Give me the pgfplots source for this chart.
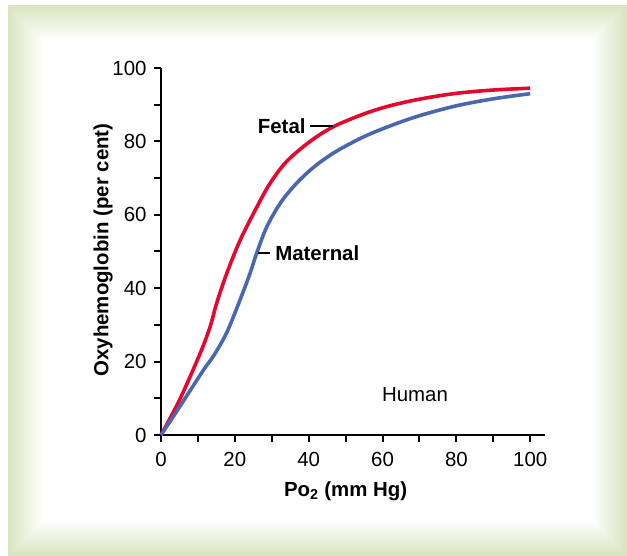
\documentclass[border=0pt]{standalone}
\usepackage{pgfplots}
\pgfplotsset{compat=1.18}
\usepackage{fontspec}
\setmainfont{Liberation Sans}
\definecolor{frameGreen}{HTML}{D9E4C0}
\definecolor{fetalRed}{HTML}{E4082F}
\definecolor{maternalBlue}{HTML}{4A68B0}
\newcommand{\chartfont}{\fontsize{20.5}{24}\selectfont}
\begin{document}
\begin{tikzpicture}
% page and frame background
\fill[white] (0,0) rectangle (627bp,556bp);
\foreach \i in {0,...,16}{
  \pgfmathsetmacro{\pct}{100*(1-\i/17)}
  \fill[frameGreen!\pct!white] (8bp+2*\i bp,0bp+2*\i bp) rectangle (627bp-2*\i bp,551bp-2*\i bp);
}
\fill[white] (42bp,34bp) rectangle (593bp,517bp);
\begin{axis}[
  at={(161bp,121bp)}, anchor=south west,
  scale only axis, width=384bp, height=367bp,
  xmin=0, xmax=104, ymin=0, ymax=100,
  axis x line*=bottom, axis y line*=left,
  axis line style={line width=2.2bp, black, -},
  xtick={0,20,...,100}, ytick={0,20,...,100},
  minor xtick={10,30,...,90}, minor ytick={10,30,...,90},
  tick align=outside,
  major tick length=7bp, minor tick length=7bp,
  every tick/.style={line width=2bp, black},
  tick label style={font=\chartfont},
  xticklabel style={yshift=-7bp},
  yticklabel style={xshift=-4bp},
  /pgf/number format/assume math mode=true,
  xlabel={\bfseries Po\textsubscript{2} (mm Hg)},
  ylabel={\bfseries Oxyhemoglobin (per cent)},
  every axis x label/.style={at={(axis cs:50,-15.3)}, anchor=center, font=\chartfont},
  every axis y label/.style={at={(axis cs:-15.7,50.4)}, anchor=center, rotate=90, font=\chartfont},
  clip=false,
]
\addplot[fetalRed, line width=3.6bp, smooth, tension=0.55] coordinates {
  (0,0) (5,9.5) (10.5,22) (13.3,29.5) (15.1,36) (17.8,44) (21.4,53) (25.9,62)
  (29.5,68.5) (34,74.5) (40.4,80) (46.7,84) (55,87.5) (62,89.7) (70,91.5)
  (80,93.1) (90,94) (100,94.5)
};
\addplot[maternalBlue, line width=3.6bp, smooth, tension=0.55] coordinates {
  (0,0) (5,7.6) (11.5,17.7) (14.2,21.5) (17.8,27.9) (21.4,36.8) (24.1,44) (25.9,49.5)
  (28.6,56.6) (32.2,63) (35.9,67.7) (40,71.8) (44,75) (48.5,77.9) (55,81.3) (62,84.2)
  (70,87) (80,89.7) (90,91.6) (100,93)
};
\draw[line width=1.5bp, black] (axis cs:40.4,84.2) -- (axis cs:46.6,84.2);
\node[anchor=east, font=\chartfont\bfseries, inner sep=0pt] at (axis cs:39.2,84.2) {Fetal};
\draw[line width=1.5bp, black] (axis cs:26.3,49.6) -- (axis cs:29.5,49.6);
\node[anchor=west, font=\chartfont\bfseries, inner sep=0pt] at (axis cs:30.9,49.6) {Maternal};
\node[anchor=center, font=\chartfont, inner sep=0pt] at (axis cs:68.8,10.9) {Human};
\end{axis}
\end{tikzpicture}
\end{document}
